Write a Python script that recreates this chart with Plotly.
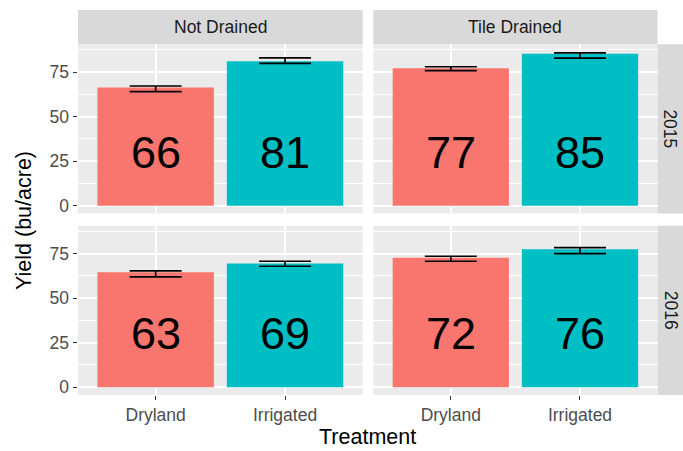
import plotly.graph_objects as go

# ---- data ----
treatments = ["Dryland", "Irrigated"]
drainage = ["Not Drained", "Tile Drained"]
years = ["2015", "2016"]

# bar heights (yield, bu/acre) per [year][drainage] -> [Dryland, Irrigated]
yield_2015_nd = [66.3, 81.1]
yield_2015_td = [77.2, 85.3]
yield_2016_nd = [64.5, 69.4]
yield_2016_td = [72.6, 77.4]

# error bar ends (low / high)
low_2015_nd = [64.0, 79.9]
high_2015_nd = [67.2, 83.0]
low_2015_td = [75.8, 82.8]
high_2015_td = [78.0, 85.8]
low_2016_nd = [61.9, 67.9]
high_2016_nd = [65.3, 70.7]
low_2016_td = [70.7, 75.0]
high_2016_td = [73.5, 78.3]

# printed labels
labels_2015_nd = ["66", "81"]
labels_2015_td = ["77", "85"]
labels_2016_nd = ["63", "69"]
labels_2016_td = ["72", "76"]
label_y = 30

y_ticks = [0, 25, 50, 75]

# ---- styling ----
W, H = 683, 451
FONT = "Liberation Sans, Arial, sans-serif"
COLORS = ["#F8766D", "#00BFC4"]
PANEL_BG = "#EBEBEB"
STRIP_BG = "#D9D9D9"

def px_x(v):
    return v / W

def px_y(v):
    return 1 - v / H

col_dom = [(78.0, 362.7), (373.3, 657.5)]
row_dom = [(44.5, 214.4), (226.8, 396.7)]
strip_top = (10.0, 44.5)
strip_right = (657.5, 690.0)

panels = [
    (0, 0, yield_2015_nd, low_2015_nd, high_2015_nd, labels_2015_nd),
    (0, 1, yield_2015_td, low_2015_td, high_2015_td, labels_2015_td),
    (1, 0, yield_2016_nd, low_2016_nd, high_2016_nd, labels_2016_nd),
    (1, 1, yield_2016_td, low_2016_td, high_2016_td, labels_2016_td),
]

fig = go.Figure()
layout = {}
yrange = [-4.3, 90.6]
shapes = []
annotations = []

for i, (r, c, vals, lo, hi, labs) in enumerate(panels):
    n = "" if i == 0 else str(i + 1)
    xa, ya = "x" + n, "y" + n
    plus = [h - v for h, v in zip(hi, vals)]
    minus = [v - l for v, l in zip(vals, lo)]
    fig.add_trace(go.Bar(
        x=treatments, y=vals, xaxis=xa, yaxis=ya, width=0.9,
        marker=dict(color=COLORS, line=dict(width=0)),
        error_y=dict(type="data", symmetric=False, array=plus, arrayminus=minus,
                     color="black", thickness=1.7, width=26),
        showlegend=False, hoverinfo="skip",
    ))
    for t, lab in zip(treatments, labs):
        annotations.append(dict(xref=xa, yref=ya, x=t, y=label_y, text=lab,
                                showarrow=False, xanchor="center", yanchor="middle",
                                font=dict(family=FONT, size=45, color="black")))
    bottom = r == 1
    left = c == 0
    layout["xaxis" + n] = dict(
        domain=[px_x(col_dom[c][0]), px_x(col_dom[c][1])],
        anchor=ya, type="category", range=[-0.6, 1.6],
        showgrid=True, gridcolor="white", gridwidth=1.6,
        zeroline=False, showline=False,
        ticks="outside" if bottom else "", ticklen=4.5, tickwidth=1.4, tickcolor="#333333",
        showticklabels=bottom,
        tickfont=dict(family=FONT, size=17.5, color="#4D4D4D"),
    )
    layout["yaxis" + n] = dict(
        domain=[px_y(row_dom[r][1]), px_y(row_dom[r][0])],
        anchor=xa, range=yrange, tickvals=y_ticks,
        showgrid=True, gridcolor="white", gridwidth=1.6,
        minor=dict(showgrid=True, gridcolor="white", gridwidth=0.8,
                   tickvals=[12.5, 37.5, 62.5, 87.5]),
        zeroline=False, showline=False,
        ticks="outside" if left else "", ticklen=4.5, tickwidth=1.4, tickcolor="#333333",
        showticklabels=left,
        tickfont=dict(family=FONT, size=17.5, color="#4D4D4D"),
    )

for c, name in enumerate(drainage):
    shapes.append(dict(type="rect", xref="paper", yref="paper", layer="below",
                       x0=px_x(col_dom[c][0]), x1=px_x(col_dom[c][1]),
                       y0=px_y(strip_top[1]), y1=px_y(strip_top[0]),
                       fillcolor=STRIP_BG, line=dict(width=0)))
    annotations.append(dict(xref="paper", yref="paper", showarrow=False,
                            x=px_x(sum(col_dom[c]) / 2), y=px_y(sum(strip_top) / 2),
                            text=name, xanchor="center", yanchor="middle",
                            font=dict(family=FONT, size=17.5, color="#1A1A1A")))
for r, name in enumerate(years):
    shapes.append(dict(type="rect", xref="paper", yref="paper", layer="below",
                       x0=px_x(strip_right[0]), x1=px_x(strip_right[1]),
                       y0=px_y(row_dom[r][1]), y1=px_y(row_dom[r][0]),
                       fillcolor=STRIP_BG, line=dict(width=0)))
    annotations.append(dict(xref="paper", yref="paper", showarrow=False,
                            x=px_x(670.5), y=px_y(sum(row_dom[r]) / 2),
                            text=name, textangle=90, xanchor="center", yanchor="middle",
                            font=dict(family=FONT, size=17.5, color="#1A1A1A")))

annotations.append(dict(xref="paper", yref="paper", showarrow=False,
                        x=px_x(24), y=px_y(222), text="Yield (bu/acre)", textangle=-90,
                        xanchor="center", yanchor="middle",
                        font=dict(family=FONT, size=21.5, color="black")))
annotations.append(dict(xref="paper", yref="paper", showarrow=False,
                        x=px_x(367.6), y=px_y(439), text="Treatment",
                        xanchor="center", yanchor="middle",
                        font=dict(family=FONT, size=21.5, color="black")))

fig.update_layout(
    width=W, height=H, autosize=False,
    margin=dict(l=0, r=0, t=0, b=0, pad=0),
    paper_bgcolor="white", plot_bgcolor=PANEL_BG,
    barmode="group", shapes=shapes, annotations=annotations,
    font=dict(family=FONT),
    **layout,
)

fig.write_html("out.html")
